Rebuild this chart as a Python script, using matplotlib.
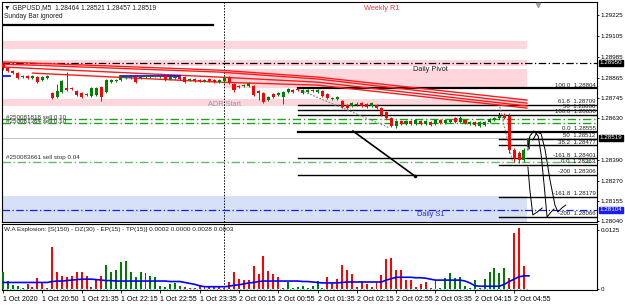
import matplotlib
matplotlib.use("Agg")
import matplotlib.pyplot as plt

plt.rcParams['font.family'] = ['Liberation Sans', 'DejaVu Sans']

# ---- M5 candles, GBPUSD ----
opens = [1.28943, 1.28920, 1.28903, 1.28891, 1.28868, 1.28874, 1.28862, 1.28868, 1.28851, 1.28862,
         1.28776, 1.28753, 1.28782, 1.28805, 1.28805, 1.28788, 1.28776, 1.28765, 1.28759, 1.28765,
         1.28811, 1.28782, 1.28839, 1.28845, 1.28851, 1.28862, 1.28862, 1.28868, 1.28862, 1.28868,
         1.28868, 1.28868, 1.28868, 1.28874, 1.28857, 1.28862, 1.28868, 1.28868, 1.28851, 1.28857,
         1.28851, 1.28845, 1.28857, 1.28851, 1.28839, 1.28845, 1.28868, 1.28828, 1.28816, 1.28816,
         1.28816, 1.28816, 1.28788, 1.28776, 1.28736, 1.28771, 1.28765, 1.28753, 1.28782, 1.28794,
         1.28799, 1.28776, 1.28782, 1.28794, 1.28782, 1.28788, 1.28771, 1.28742, 1.28742, 1.28730,
         1.28707, 1.28702, 1.28707, 1.28719, 1.28713, 1.28702, 1.28707, 1.28690, 1.28667, 1.28633,
         1.28587, 1.28615, 1.28598, 1.28615, 1.28598, 1.28615, 1.28598, 1.28610, 1.28598, 1.28621,
         1.28604, 1.28610, 1.28633, 1.28610, 1.28621, 1.28598, 1.28610, 1.28587, 1.28592, 1.28610,
         1.28621, 1.28633, 1.28650, 1.28644, 1.28449, 1.28431, 1.28391, 1.28464]
highs = [1.28955, 1.28926, 1.28908, 1.28897, 1.28880, 1.28880, 1.28880, 1.28874, 1.28874, 1.28880,
         1.28782, 1.28828, 1.28851, 1.28897, 1.28811, 1.28794, 1.28782, 1.28776, 1.28811, 1.28811,
         1.28816, 1.28857, 1.28857, 1.28857, 1.28880, 1.28874, 1.28874, 1.28874, 1.28880, 1.28880,
         1.28874, 1.28880, 1.28880, 1.28880, 1.28874, 1.28874, 1.28874, 1.28874, 1.28862, 1.28862,
         1.28857, 1.28857, 1.28862, 1.28857, 1.28857, 1.28874, 1.28874, 1.28834, 1.28822, 1.28828,
         1.28839, 1.28822, 1.28794, 1.28782, 1.28759, 1.28776, 1.28782, 1.28788, 1.28805, 1.28799,
         1.28805, 1.28799, 1.28799, 1.28799, 1.28799, 1.28794, 1.28776, 1.28753, 1.28759, 1.28736,
         1.28713, 1.28725, 1.28725, 1.28725, 1.28719, 1.28725, 1.28713, 1.28696, 1.28673, 1.28638,
         1.28621, 1.28621, 1.28621, 1.28621, 1.28627, 1.28621, 1.28621, 1.28615, 1.28627, 1.28627,
         1.28627, 1.28627, 1.28638, 1.28644, 1.28627, 1.28615, 1.28615, 1.28615, 1.28615, 1.28633,
         1.28638, 1.28650, 1.28661, 1.28661, 1.28460, 1.28443, 1.28460, 1.28521]
lows = [1.28908, 1.28897, 1.28885, 1.28857, 1.28862, 1.28857, 1.28857, 1.28834, 1.28845, 1.28857,
        1.28742, 1.28748, 1.28776, 1.28788, 1.28794, 1.28759, 1.28748, 1.28759, 1.28753, 1.28759,
        1.28730, 1.28776, 1.28834, 1.28839, 1.28845, 1.28857, 1.28857, 1.28834, 1.28857, 1.28862,
        1.28862, 1.28868, 1.28862, 1.28845, 1.28851, 1.28857, 1.28851, 1.28834, 1.28845, 1.28839,
        1.28839, 1.28839, 1.28839, 1.28834, 1.28834, 1.28834, 1.28828, 1.28782, 1.28805, 1.28811,
        1.28811, 1.28759, 1.28736, 1.28719, 1.28730, 1.28748, 1.28759, 1.28713, 1.28776, 1.28776,
        1.28788, 1.28771, 1.28776, 1.28782, 1.28776, 1.28753, 1.28742, 1.28736, 1.28736, 1.28690,
        1.28684, 1.28696, 1.28702, 1.28696, 1.28690, 1.28696, 1.28684, 1.28644, 1.28627, 1.28581,
        1.28575, 1.28592, 1.28592, 1.28592, 1.28592, 1.28592, 1.28592, 1.28587, 1.28592, 1.28598,
        1.28598, 1.28604, 1.28604, 1.28604, 1.28598, 1.28592, 1.28587, 1.28581, 1.28587, 1.28604,
        1.28615, 1.28627, 1.28627, 1.28431, 1.28380, 1.28374, 1.28380, 1.28457]
closes = [1.28920, 1.28903, 1.28891, 1.28862, 1.28874, 1.28862, 1.28874, 1.28839, 1.28868, 1.28874,
          1.28748, 1.28788, 1.28845, 1.28794, 1.28799, 1.28765, 1.28753, 1.28771, 1.28805, 1.28805,
          1.28753, 1.28851, 1.28851, 1.28851, 1.28874, 1.28868, 1.28868, 1.28839, 1.28874, 1.28874,
          1.28874, 1.28874, 1.28874, 1.28851, 1.28868, 1.28868, 1.28857, 1.28839, 1.28857, 1.28845,
          1.28845, 1.28851, 1.28845, 1.28839, 1.28851, 1.28862, 1.28834, 1.28794, 1.28811, 1.28822,
          1.28834, 1.28765, 1.28776, 1.28725, 1.28753, 1.28753, 1.28776, 1.28782, 1.28799, 1.28782,
          1.28794, 1.28794, 1.28794, 1.28788, 1.28794, 1.28759, 1.28748, 1.28748, 1.28753, 1.28696,
          1.28690, 1.28719, 1.28713, 1.28702, 1.28696, 1.28719, 1.28690, 1.28650, 1.28633, 1.28587,
          1.28615, 1.28598, 1.28615, 1.28598, 1.28621, 1.28598, 1.28615, 1.28592, 1.28621, 1.28604,
          1.28621, 1.28621, 1.28610, 1.28633, 1.28604, 1.28610, 1.28592, 1.28610, 1.28610, 1.28627,
          1.28633, 1.28644, 1.28633, 1.28449, 1.28403, 1.28391, 1.28449, 1.28519]

# ---- W.A Explosion indicator ----
explosion = [.0036, .0017, .0008, .0006, .0003, .0011, .0004, .0023, .0015, .0003,
             .0089, .0036, .0028, .0025, .0028, .0036, .0036, .0028, .0004, .0021,
             .0028, .0051, .0036, .0040, .0057, .0059, .0036, .0025, .0036, .0034,
             .0028, .0025, .0006, .0004, .0011, .0013, .0006, .0004, .0002, .0002,
             .0006, .0006, .0006, .0004, .0006, .0003, .0015, .0036, .0021, .0019,
             .0019, .0049, .0032, .0070, .0038, .0032, .0025, .0003, .0015, .0002,
             .0004, .0006, .0002, .0006, .0017, .0002, .0025, .0013, .0021, .0051,
             .0040, .0032, .0004, .0017, .0011, .0004, .0015, .0030, .0064, .0066,
             .0040, .0040, .0019, .0019, .0004, .0011, .0015, .0002, .0019, .0002,
             .0023, .0034, .0023, .0025, .0006, .0002, .0019, .0002, .0021, .0036,
             .0045, .0034, .0045, .0023, .0119, .0129, .0049, .0000]
explosion_dir = ("ggggg" "rrrrrrrrrrrrrrrr" "gggggggggggggggg" "rrrrrrrrrrrrrrrrrrrrr"
                 "gggggggg" "rrrrrrrrrrrrrrrrrrrrrr" "ggggggggg" "r" "ggggg" "rrrrr")
signal = [.0014, .0014, .0014, .0014, .0014, .0014, .0014, .0014, .0014, .0014,
          .0016, .0017, .0017, .0018, .0019, .0020, .0021, .0021, .0021, .0020,
          .0019, .0018, .0018, .0017, .0017, .0017, .0017, .0017, .0017, .0017,
          .0017, .0017, .0017, .0017, .0016, .0016, .0016, .0014, .0012, .0010,
          .0007, .0005, .0005, .0005, .0005, .0005, .0006, .0008, .0009, .0011,
          .0013, .0014, .0016, .0017, .0017, .0017, .0017, .0017, .0017, .0017,
          .0017, .0016, .0016, .0015, .0014, .0013, .0013, .0013, .0013, .0014,
          .0015, .0015, .0015, .0015, .0015, .0015, .0015, .0015, .0019, .0022,
          .0025, .0025, .0025, .0025, .0024, .0024, .0023, .0021, .0019, .0019,
          .0019, .0019, .0019, .0019, .0017, .0013, .0007, .0006, .0006, .0006,
          .0006, .0006, .0010, .0016, .0021, .0026, .0028, .0028]

time_ticks = [0, 8, 16, 24, 32, 40, 48, 56, 64, 72, 80, 88, 96, 104]
time_labels = ["1 Oct 2020", "1 Oct 20:50", "1 Oct 21:35", "1 Oct 22:15", "1 Oct 22:55",
               "1 Oct 23:35", "2 Oct 00:15", "2 Oct 00:55", "2 Oct 01:35", "2 Oct 02:15",
               "2 Oct 02:55", "2 Oct 03:35", "2 Oct 04:15", "2 Oct 04:55"]
price_ticks = [1.29225, 1.29105, 1.28985, 1.28865, 1.28745, 1.28630, 1.28390, 1.28270, 1.28155, 1.28040]

daily_pivot = 1.28950
daily_s1 = 1.28104
bid = 1.28519
weekly_r1_label_y = 1.29265
session_start = 45

# pink / blue zones: (low, high, from bar)
pink_zones = [(1.29029, 1.29075, -0.2), (1.28931, 1.28966, -0.2), (1.28805, 1.28914, 45), (1.28702, 1.28742, -0.2)]
blue_zone = (1.28035, 1.28184, -0.2)
zone_end = 106.6

# red channel lines
red_x = [[0, 44, 64, 106.6], [0, 44, 64, 106.6], [0, 44, 64, 106.6], [6, 44, 64, 106.6]]
red_y = [[1.28955, 1.28908, 1.28868, 1.28736],
         [1.28943, 1.28897, 1.28857, 1.28718],
         [1.28926, 1.28868, 1.28839, 1.28702],
         [1.28891, 1.28839, 1.28822, 1.28690]]

# fibonacci levels: (price, start bar, label, width)
fib_levels = [(1.28804, 60, "100.0  1.28804", 1.6), (1.28709, 60, "61.8  1.28709", 1.0),
              (1.28680, 60, "50  1.28680", 1.0), (1.28650, 60, "100.0  1.28650", 1.0),
              (1.28555, 60, "0.0  1.28555", 1.6), (1.28401, 60, "-161.8  1.28401", 1.0),
              (1.28306, 60, "-200  1.28306", 1.0), (1.28512, 101, "50  1.28512", 1.0),
              (1.28477, 101, "38.2  1.28477", 1.0), (1.28363, 101, "0.0  1.28363", 1.0),
              (1.28179, 101, "-161.8  1.28179", 1.0), (1.28066, 101, "-200  1.28066", 1.0)]

orders = [(1.28627, "#250081818 sell 0.10", '#22a022'), (1.28604, "#250081364 sell 0.10", '#22a022'),
          (1.28380, "#250083661 sell stop 0.04", '#66bb66')]

trend_x = [71.2, 83.8]
trend_y = [1.28558, 1.28299]
zig1_x = [60, 78.7]
zig1_y = [1.28799, 1.28575]
zig2_x = [101.1, 103.7]
zig2_y = [1.28696, 1.28380]

loops_x = [[106.8, 107.2, 107.8, 108.7, 109.7],
           [106.8, 107.2, 108.0, 108.9, 109.5, 110.1, 110.7, 111.5, 112.1],
           [107.8, 108.7, 109.5, 110.3, 111.3, 112.3, 112.9, 113.7, 114.5]]
loops_y = [[1.28351, 1.28219, 1.28075, 1.28092, 1.28115],
           [1.28449, 1.28529, 1.28558, 1.28529, 1.28420, 1.28248, 1.28063, 1.28092, 1.28109],
           [1.28506, 1.28552, 1.28541, 1.28449, 1.28276, 1.28132, 1.28092, 1.28115, 1.28132]]

W, H = 625, 307
XMIN, XMAX = -0.2, 120.86


def px_rect(x0, y0, x1, y1):
    return [x0 / W, 1 - y1 / H, (x1 - x0) / W, (y1 - y0) / H]


fig = plt.figure(figsize=(W / 100, H / 100), dpi=100)
ax = fig.add_axes(px_rect(2, 2, 597, 222))
ax2 = fig.add_axes(px_rect(2, 224, 597, 290))

for a in (ax, ax2):
    a.set_xlim(XMIN, XMAX)
    for s in a.spines.values():
        s.set_linewidth(0.8)
        s.set_color('black')
    a.yaxis.tick_right()
    a.tick_params(axis='y', labelsize=4.5, length=1.5, pad=1.2, width=0.6)

ax.set_ylim(1.280345, 1.29300)

# zones
for lo, hi, x0 in pink_zones:
    ax.fill_between([x0, zone_end], lo, hi, color='#ffd6dc', lw=0, zorder=0)
ax.fill_between([blue_zone[2], zone_end], blue_zone[0], blue_zone[1], color='#d6e0f7', lw=0, zorder=0)

# horizontal lines
ax.plot([-0.2, 42.7], [1.29168, 1.29168], color='black', lw=1.6, zorder=2)
ax.axhline(daily_pivot, color='black', lw=0.9, ls=(0, (6, 2, 1, 2)), zorder=2)
ax.axhline(daily_s1, color='#1a1aff', lw=0.9, ls=(0, (6, 2, 1, 2)), zorder=2)
ax.axhline(bid, color='#c8c8c8', lw=0.8, zorder=1)
for price, label, col in orders:
    ax.axhline(price, color=col, lw=1.0, ls=(0, (6, 2, 1, 2)), zorder=2)

for xs, ys in zip(red_x, red_y):
    ax.plot(xs, ys, color='#ff1a1a', lw=1.0, zorder=3)

ax.plot([-0.2, 1.4], [1.28874, 1.28874], color='#0000ff', lw=1.2, zorder=3)
ax.plot([23.8, 36.0], [1.28874, 1.28874], color='#0000ff', lw=1.2, zorder=3)

for price, x0, label, lw in fib_levels:
    ax.plot([x0, XMAX], [price, price], color='black', lw=lw, zorder=2)
    ax.text(120.6, price + 0.00003, label, fontsize=4.4, ha='right', va='bottom', color='#202020', zorder=6)
ax.plot([101, 101], [1.28661, 1.28627], color='black', lw=0.8, zorder=2)

ax.plot(trend_x, trend_y, color='black', lw=1.2, zorder=3)
ax.plot(trend_x[1], trend_y[1], 'o', color='black', ms=1.5, zorder=3)
ax.plot(zig1_x, zig1_y, color='#808080', lw=0.8, ls=(0, (1.5, 1.5)), zorder=3)
ax.plot(zig2_x, zig2_y, color='#808080', lw=0.8, ls=(0, (1.5, 1.5)), zorder=3)
for xs, ys in zip(loops_x, loops_y):
    ax.plot(xs, ys, color='black', lw=0.7, zorder=5)

ax.axvline(session_start, color='black', lw=0.7, ls=(0, (1.5, 1.5)), zorder=1)
ax2.axvline(session_start, color='black', lw=0.7, ls=(0, (1.5, 1.5)), zorder=1)

# candles
idx = list(range(len(opens)))
for i in idx:
    up = closes[i] >= opens[i]
    col = '#008000' if up else '#ff0000'
    ax.vlines(i, lows[i], highs[i], color=col, lw=0.7, zorder=4)
    lo = min(opens[i], closes[i])
    h = max(abs(closes[i] - opens[i]), 0.00003)
    ax.bar(i, h, bottom=lo, width=0.62, color=col, lw=0, zorder=4)

# texts
ax.text(0.003, 0.977, "\u25bc GBPUSD,M5  1.28464 1.28521 1.28457 1.28519", transform=ax.transAxes,
        fontsize=4.8, va='center', color='#202020')
ax.text(0.003, 0.932, "Sunday Bar ignored", transform=ax.transAxes, fontsize=4.8, va='center', color='#202020')
ax.text(77, weekly_r1_label_y, "Weekly R1", fontsize=5.3, ha='center', va='center', color='#ff3333')
ax.text(87, 1.28914, "Daily Pivot", fontsize=5.3, ha='center', va='center', color='#202020')
ax.text(87, 1.28075, "Daily S1", fontsize=5.3, ha='center', va='center', color='#3030cc')
ax.text(45, 1.28713, "ADR Start", fontsize=5.3, ha='center', va='center', color='#8a9aaa')
for (price, label, col), dy in zip(orders, [0.00011, 0.0001, 0.00023]):
    ax.text(0.6, price + dy, label, fontsize=4.5, ha='left', va='center', color='#303030')
ax.plot(108.85, 1.29282, marker='v', color='#a0a0a0', ms=3, zorder=6)

# price axis
ax.set_yticks(price_ticks)
ax.set_yticklabels(["%.5f" % p for p in price_ticks])
ax.set_xticks([])
for price, bg in [(daily_pivot, 'black'), (bid, 'black'), (daily_s1, '#1a1aff')]:
    ax.annotate("%.5f" % price, xy=(1.0, price), xycoords=('axes fraction', 'data'),
                xytext=(1.8, 0), textcoords='offset points', fontsize=4.5, color='white',
                va='center', ha='left', zorder=10,
                bbox=dict(boxstyle='square,pad=0.12', fc=bg, ec=bg))

# indicator panel
ax2.set_ylim(-0.0002, 0.0138)
bar_cols = ['#007a00' if d == 'g' else '#ff0000' for d in explosion_dir]
ax2.bar(idx, explosion, width=0.4, color=bar_cols, lw=0, zorder=3)
ax2.plot(idx, signal, color='#0000ff', lw=1.2, zorder=4)
ax2.plot(idx, [0.0001] * len(idx), color='#00d8d8', lw=0.8, ls=(0, (1, 2)), zorder=4)
ax2.set_yticks([0.0125, 0])
ax2.set_yticklabels(["0.0125", "0"])
ax2.set_xticks(time_ticks)
ax2.set_xticklabels(time_labels, fontsize=5, ha='left')
ax2.tick_params(axis='x', length=2.5, pad=1.5, width=0.6)
ax2.text(0.004, 0.91, "W.A Explosion: [S(150) - DZ(30) - EP(15) - TP(15)] 0.0002 0.0000 0.0028 0.0003",
         transform=ax2.transAxes, fontsize=4.6, va='center', color='#202020')

fig.savefig("out.png", dpi=100)
